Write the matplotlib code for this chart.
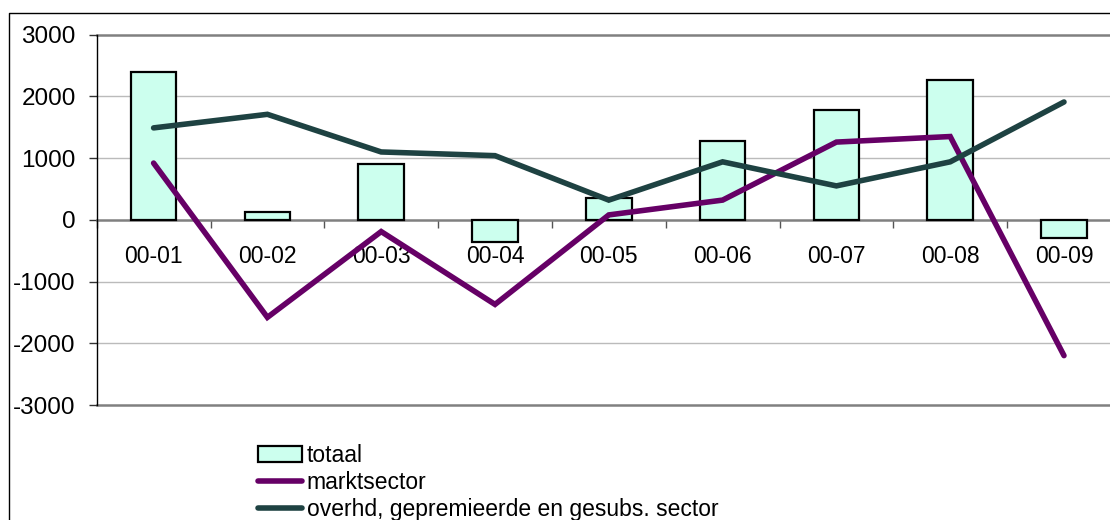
import matplotlib
matplotlib.use("Agg")
import matplotlib.pyplot as plt
from matplotlib.lines import Line2D
import numpy as np

plt.rcParams['font.family'] = ['Liberation Sans', 'DejaVu Sans']

categories = ["00-01", "00-02", "00-03", "00-04", "00-05", "00-06", "00-07", "00-08", "00-09"]
totaal = [2400, 130, 900, -360, 350, 1270, 1780, 2260, -290]
marktsector = [920, -1580, -190, -1370, 80, 320, 1260, 1350, -2200]
overhd = [1490, 1710, 1100, 1040, 320, 940, 550, 940, 1910]
yticks = [-3000, -2000, -1000, 0, 1000, 2000, 3000]

W, H = 1110, 520
fig = plt.figure(figsize=(W / 100, H / 100), dpi=100)
ax = fig.add_axes([96.7 / W, 1 - 405 / H, 9 * 113.8 / W, (405 - 34.7) / H])

x = np.arange(len(categories))
b = ax.bar(x, totaal, width=0.4, color="#CCFFEE", edgecolor="black", linewidth=1.6,
           label="totaal", zorder=3)
l1, = ax.plot(x, marktsector, color="#660066", linewidth=4.0, label="marktsector",
              zorder=4, solid_capstyle="round", solid_joinstyle="miter")
l2, = ax.plot(x, overhd, color="#1E4242", linewidth=4.0,
              label="overhd, gepremieerde en gesubs. sector", zorder=5,
              solid_capstyle="round", solid_joinstyle="miter")

ax.set_xlim(-0.5, len(categories) - 0.5)
ax.set_ylim(-3000, 3000)

# gridlines
for v in yticks:
    if v in (3000, -3000):
        ax.axhline(v, color="#808080", linewidth=1.8, zorder=1, clip_on=False)
    elif v != 0:
        ax.axhline(v, color="#BBBBBB", linewidth=1.0, zorder=1)

for s in ("top", "right"):
    ax.spines[s].set_visible(False)
ax.spines["left"].set_color("black")
ax.spines["left"].set_linewidth(1.0)
ax.spines["bottom"].set_position(("data", 0))
ax.spines["bottom"].set_color("#808080")
ax.spines["bottom"].set_linewidth(1.8)
ax.spines["bottom"].set_zorder(2)

ax.set_yticks(yticks)
ax.set_yticklabels([str(v) for v in yticks])
ax.tick_params(axis="y", length=6, width=1.0, color="#333333", pad=9, labelsize=17.5)

ax.set_xticks(np.arange(-0.5, len(categories) + 0.5, 1.0))
ax.set_xticklabels([])
ax.set_xticks(x, minor=True)
ax.set_xticklabels(categories, minor=True)
ax.tick_params(axis="x", which="major", length=5.5, width=1.0, color="#555555", direction="out")
ax.tick_params(axis="x", which="minor", length=0, pad=18, labelsize=16.5)

# outer chart border
fig.add_artist(Line2D([8.5 / W, 8.5 / W, 1.0], [0.0, 1 - 13 / H, 1 - 13 / H],
                      transform=fig.transFigure, color="black", linewidth=1.0))

fig.legend(handles=[b, l1, l2], loc="upper left", bbox_to_anchor=(258 / W, 1 - 444 / H),
           frameon=False, fontsize=16.5, handlelength=1.9, handleheight=0.66,
           handletextpad=0.23, labelspacing=0.17, borderpad=0, borderaxespad=0)

fig.savefig("out.png", dpi=100)
